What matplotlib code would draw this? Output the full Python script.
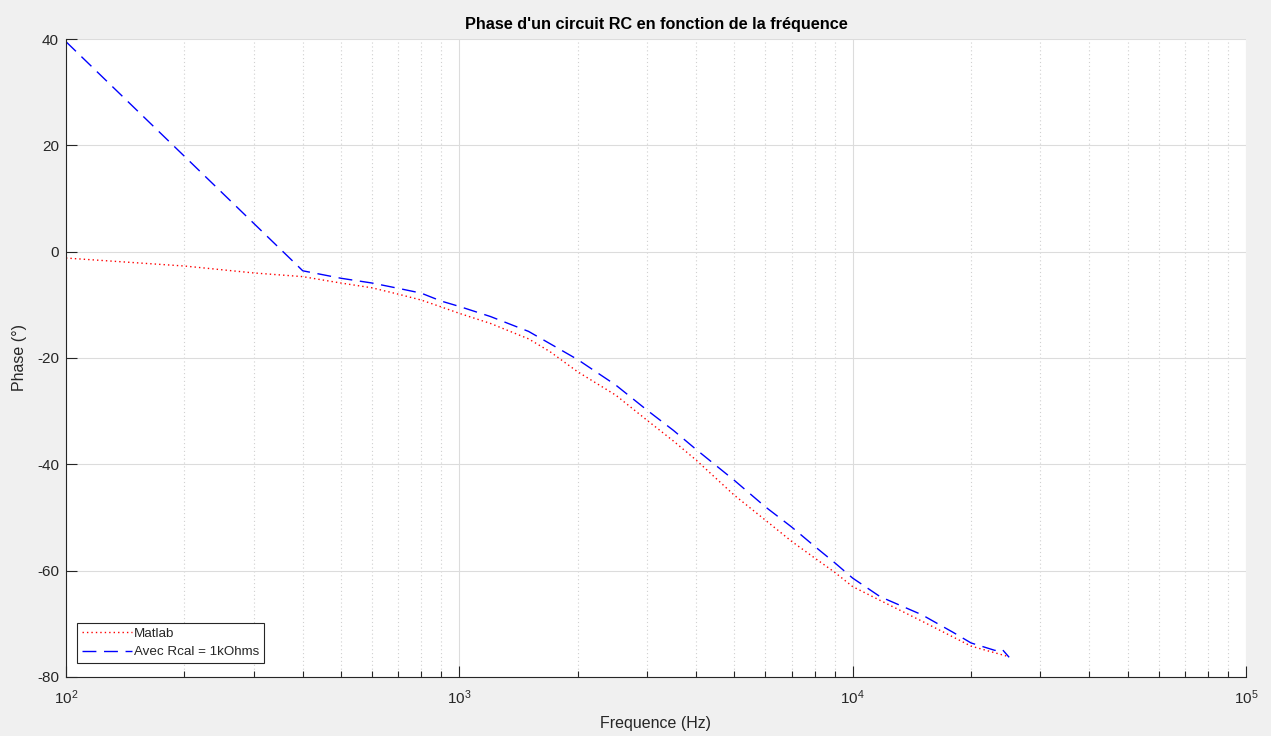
import matplotlib.pyplot as plt
from matplotlib.ticker import LogLocator, FixedLocator

# Phase curves of the RC circuit (frequency in Hz, phase in degrees)
freq_matlab = [100, 200, 300, 400, 500, 600, 700, 800, 900, 1000, 1200, 1500, 1700, 2000,
               2500, 3000, 3500, 4000, 5000, 6000, 7000, 8000, 9000, 10000, 11750,
               15000, 20000, 25000]
phase_matlab = [-1.2, -2.7, -4.0, -4.7, -5.9, -6.8, -8.0, -9.1, -10.4, -11.6, -13.5, -16.4,
                -18.8, -22.6, -27.0, -31.7, -35.6, -39.2, -45.8, -50.5, -54.5, -57.6, -60.3,
                -63.0, -65.6, -69.5, -74.2, -76.2]

freq_rcal = [100, 400, 500, 600, 700, 800, 900, 1000, 1200, 1500, 1700, 2000, 2500, 3000,
             3500, 4000, 5000, 6000, 7000, 8000, 9000, 10000, 11750, 15000, 18000, 20000,
             23000, 24000, 25000]
phase_rcal = [39.5, -3.6, -5.0, -5.9, -6.9, -7.8, -9.3, -10.3, -12.2, -15.0, -17.3, -20.3,
              -25.1, -29.8, -33.6, -37.2, -43.0, -48.0, -51.8, -55.4, -58.5, -61.4, -64.9,
              -68.3, -71.6, -73.6, -75.0, -74.8, -76.3]

plt.rcParams['font.family'] = ['Liberation Sans', 'DejaVu Sans']
plt.rcParams['mathtext.fontset'] = 'custom'
plt.rcParams['mathtext.rm'] = 'Liberation Sans'
plt.rcParams['mathtext.it'] = 'Liberation Sans'
plt.rcParams['axes.unicode_minus'] = False

txt = '#262626'
fig = plt.figure(figsize=(12.71, 7.36), dpi=100, facecolor='#f0f0f0')
ax = fig.add_axes([0.0519, 0.0802, 0.9284, 0.8668])

ax.plot(freq_matlab, phase_matlab, color='red', lw=1.0, dashes=(1, 2.2), label='Matlab')
ax.plot(freq_rcal, phase_rcal, color='blue', lw=1.0, dashes=(10, 5.5), label='Avec Rcal = 1kOhms')

ax.set_xscale('log')
ax.set_xlim(100, 1e5)
ax.set_ylim(-80, 40)
ax.yaxis.set_major_locator(FixedLocator([-80, -60, -40, -20, 0, 20, 40]))
ax.xaxis.set_major_locator(LogLocator(base=10, numticks=10))
ax.xaxis.set_minor_locator(LogLocator(base=10, subs=range(2, 10), numticks=20))

ax.grid(which='major', color='#dcdcdc', lw=0.8, ls='-')
ax.grid(which='minor', axis='x', color='#d0d0d0', lw=0.8, ls=(0, (1, 2.5)))
ax.set_axisbelow(True)

for side in ['top', 'right']:
    ax.spines[side].set_visible(False)
for side in ['left', 'bottom']:
    ax.spines[side].set_color(txt)
    ax.spines[side].set_linewidth(0.8)

ax.tick_params(which='major', direction='in', length=8, width=0.8, color=txt,
               labelcolor=txt, labelsize=11)
ax.tick_params(axis='y', pad=5)
ax.tick_params(axis='x', pad=8)
ax.tick_params(which='minor', direction='in', length=4.5, width=0.8, color=txt)

ax.set_title("Phase d'un circuit RC en fonction de la fréquence", fontsize=11.7,
             fontweight='bold', pad=7)
ax.set_xlabel('Frequence (Hz)', fontsize=11.5, color=txt, labelpad=7)
ax.set_ylabel('Phase (°)', fontsize=11.5, color=txt, labelpad=7)

leg = ax.legend(loc='lower left', bbox_to_anchor=(0.0093, 0.022), fontsize=9.6,
                frameon=True, fancybox=False, framealpha=1, edgecolor=txt,
                handlelength=3.8, handletextpad=0.1, borderpad=0.35, labelspacing=0.45,
                borderaxespad=0)
leg.get_frame().set_linewidth(0.8)
for t in leg.get_texts():
    t.set_color(txt)

fig.savefig('out.png', dpi=100, facecolor=fig.get_facecolor())
